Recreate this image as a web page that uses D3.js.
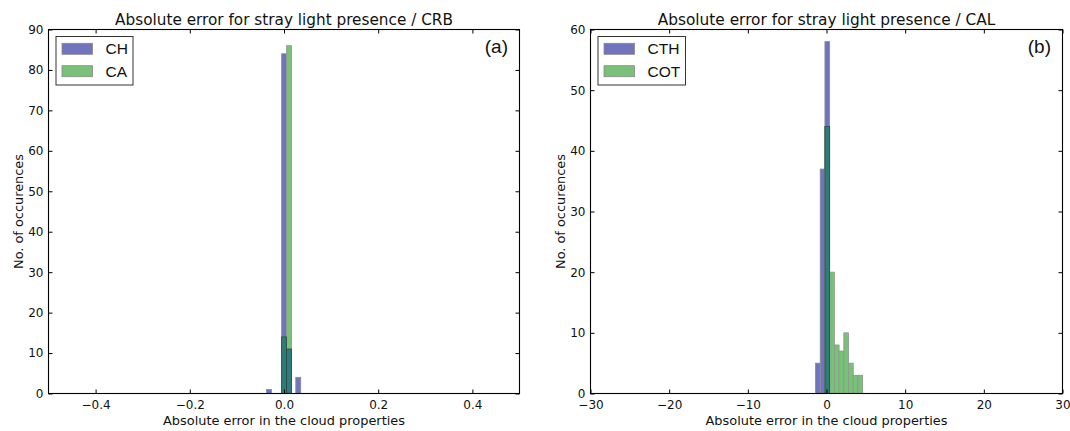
<!DOCTYPE html>
<html><head><meta charset="utf-8">
<script src="https://cdn.jsdelivr.net/npm/d3@7"></script>
<style>
body{margin:0;background:#fff;}
svg{display:block;}
text{font-family:"DejaVu Sans",sans-serif;fill:#111;}
</style></head>
<body><svg id="c" width="1070" height="431"></svg>
<script>
// ---- Data ----
const titles = ["Absolute error for stray light presence / CRB", "Absolute error for stray light presence / CAL"];
const panelTags = ["(a)", "(b)"];
const seriesNamesA = ["CH", "CA"];
const seriesNamesB = ["CTH", "COT"];
const xLabel = "Absolute error in the cloud properties";
const yLabel = "No. of occurences";

// Panel (a): bin left edges and counts, bin width
const binWidthA = 0.0105;
const chBinStart = [-0.037, -0.005, 0.0055, 0.025];
const chCounts   = [1, 84, 11, 4];
const caBinStart = [-0.005, 0.0055];
const caCounts   = [14, 86];
const xDomainA = [-0.5, 0.5];
const yDomainA = [0, 90];
const xTicksA = [-0.4, -0.2, 0.0, 0.2, 0.4];
const yTicksA = [0, 10, 20, 30, 40, 50, 60, 70, 80, 90];

// Panel (b)
const binWidthB = 0.6;
const cthBinStart = [-1.4, -0.8, -0.2];
const cthCounts   = [5, 37, 58];
const cotBinStart = [-0.2, 0.4, 1.0, 1.6, 2.2, 2.8, 3.4, 4.0];
const cotCounts   = [44, 20, 8, 7, 10, 5, 3, 3];
const xDomainB = [-30, 30];
const yDomainB = [0, 60];
const xTicksB = [-30, -20, -10, 0, 10, 20, 30];
const yTicksB = [0, 10, 20, 30, 40, 50, 60];

// ---- Styles ----
const BLUE = "#7074bd", GREEN = "#79c079", TEAL = "#2e7b78";
const svg = d3.select("#c");
const fmtA = d => d === 0 ? "0.0" : d3.format(".1f")(d).replace("-", "\u2212");
const fmtB = d => String(d).replace("-", "\u2212");

function fitWidth(sel, target, base) {
  sel.style("font-size", base + "px");
  const w = sel.node().getComputedTextLength();
  if (w > 0) sel.style("font-size", (base * target / w).toFixed(2) + "px");
}

function panel(o) {
  const x = d3.scaleLinear().domain(o.xDomain).range([o.left, o.right]);
  const y = d3.scaleLinear().domain(o.yDomain).range([o.bottom, o.top]);
  const g = svg.append("g");

  const s1 = o.s1Start.map((s, i) => ({x0: s, x1: s + o.bw, v: o.s1Counts[i]}));
  const s2 = o.s2Start.map((s, i) => ({x0: s, x1: s + o.bw, v: o.s2Counts[i]}));
  const ov = [];
  s1.forEach(a => { const b = s2.find(q => Math.abs(q.x0 - a.x0) < 1e-9); if (b) ov.push({x0: a.x0, x1: a.x1, v: Math.min(a.v, b.v)}); });

  const drawBars = (data, fill, stroke) => g.append("g").selectAll("rect").data(data).join("rect")
    .attr("x", d => x(d.x0)).attr("width", d => x(d.x1) - x(d.x0))
    .attr("y", d => y(d.v)).attr("height", d => y(0) - y(d.v))
    .attr("fill", fill).attr("stroke", stroke).attr("stroke-width", 0.8);
  drawBars(s1, BLUE, "#8a8a9a");
  drawBars(s2, GREEN, "#8a9a8a");
  drawBars(ov, TEAL, "#2a4a4a");

  const bottom = d3.axisBottom(x).tickValues(o.xTicks).tickFormat(o.fmt).tickSizeInner(-4).tickSizeOuter(0).tickPadding(6.5);
  const top = d3.axisTop(x).tickValues(o.xTicks).tickFormat("").tickSizeInner(-4).tickSizeOuter(0);
  const left = d3.axisLeft(y).tickValues(o.yTicks).tickFormat(d3.format("d")).tickSizeInner(-4).tickSizeOuter(0).tickPadding(5);
  const right = d3.axisRight(y).tickValues(o.yTicks).tickFormat("").tickSizeInner(-4).tickSizeOuter(0);
  const ax = [
    g.append("g").attr("transform", `translate(0,${o.bottom})`).call(bottom),
    g.append("g").attr("transform", `translate(0,${o.top})`).call(top),
    g.append("g").attr("transform", `translate(${o.left},0)`).call(left),
    g.append("g").attr("transform", `translate(${o.right},0)`).call(right)
  ];
  ax.forEach(a => {
    a.select(".domain").remove();
    a.selectAll("line").attr("stroke", "#000").attr("stroke-width", 1);
    a.selectAll("text").style("font-family", "DejaVu Sans").style("font-size", "12px").attr("fill", "#111");
  });
  g.append("rect").attr("x", o.left).attr("y", o.top).attr("width", o.right - o.left).attr("height", o.bottom - o.top)
    .attr("fill", "none").attr("stroke", "#000").attr("stroke-width", 1.1);

  // title
  const t = g.append("text").attr("x", (o.left + o.right) / 2).attr("y", 25).attr("text-anchor", "middle").text(o.title);
  fitWidth(t, 338, 15);
  // x label
  const xl = g.append("text").attr("x", (o.left + o.right) / 2).attr("y", 425).attr("text-anchor", "middle").text(xLabel);
  fitWidth(xl, 242, 12);
  // y label
  const yl = g.append("text").attr("transform", `translate(${o.left - 25.2},${(o.top + o.bottom) / 2}) rotate(-90)`)
    .attr("text-anchor", "middle").text(yLabel);
  fitWidth(yl, 115, 12);
  // panel tag
  g.append("text").attr("x", o.right - 11.5).attr("y", 52.7).attr("text-anchor", "end")
    .style("font-family", "Liberation Sans, Arial, sans-serif").style("font-size", "19px").text(o.tag);

  // legend
  const lg = g.append("g");
  lg.append("rect").attr("x", o.left + 7.5).attr("y", 36.5).attr("width", o.legW).attr("height", 48.5)
    .attr("fill", "#fff").attr("stroke", "#333").attr("stroke-width", 1);
  [[o.names[0], BLUE], [o.names[1], GREEN]].forEach((it, i) => {
    const cy = 48.8 + i * 22.4;
    lg.append("rect").attr("x", o.left + 13.5).attr("y", cy - 5.5).attr("width", 30.5).attr("height", 11)
      .attr("fill", it[1]).attr("stroke", "#888").attr("stroke-width", 0.8);
    lg.append("text").attr("x", o.left + 57).attr("y", cy + 5.5)
      .style("font-family", "Liberation Sans, Arial, sans-serif").style("font-size", "15.5px").text(it[0]);
  });
}

panel({left: 48.5, right: 519.5, top: 29.5, bottom: 393.5, xDomain: xDomainA, yDomain: yDomainA,
  xTicks: xTicksA, yTicks: yTicksA, fmt: fmtA, bw: binWidthA,
  s1Start: chBinStart, s1Counts: chCounts, s2Start: caBinStart, s2Counts: caCounts,
  title: titles[0], tag: panelTags[0], names: seriesNamesA, legW: 77});
panel({left: 590.5, right: 1062.5, top: 29.5, bottom: 393.5, xDomain: xDomainB, yDomain: yDomainB,
  xTicks: xTicksB, yTicks: yTicksB, fmt: fmtB, bw: binWidthB,
  s1Start: cthBinStart, s1Counts: cthCounts, s2Start: cotBinStart, s2Counts: cotCounts,
  title: titles[1], tag: panelTags[1], names: seriesNamesB, legW: 87.5});
</script></body></html>
